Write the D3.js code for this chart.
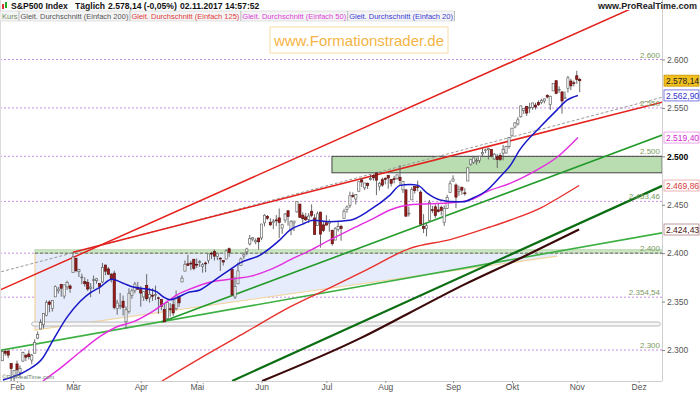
<!DOCTYPE html>
<html>
<head>
<meta charset="utf-8">
<script src="https://cdn.jsdelivr.net/npm/d3@7"></script>
<style>
  body { margin: 0; background: #fff; }
  svg { display: block; font-family: "Liberation Sans", Arial, sans-serif; }
</style>
</head>
<body>
<div id="container"></div>
<script>
'use strict';

// daily candles: [day, open, high, low, close]
const jan = [
  [23,2267.8,2271.8,2257.0,2265.2],[24,2267.9,2284.6,2266.7,2280.1],[25,2288.9,2299.6,2288.9,2298.4],
  [26,2298.6,2301.0,2294.1,2296.7],[27,2299.0,2299.0,2291.6,2294.7],[30,2286.0,2286.0,2268.0,2280.9],
  [31,2274.0,2279.1,2267.2,2278.9]
];
const feb = [
  [1,2285.6,2289.1,2272.4,2279.6],[2,2276.7,2284.0,2271.7,2280.9],[3,2288.5,2298.3,2287.9,2297.4],
  [6,2294.3,2296.2,2288.6,2292.6],[7,2295.9,2299.4,2290.2,2293.1],[8,2289.6,2295.9,2285.4,2294.7],
  [9,2296.7,2311.1,2296.6,2307.9],[10,2312.3,2319.2,2311.1,2316.1],[13,2321.7,2331.6,2321.4,2328.3],
  [14,2326.1,2337.6,2322.2,2337.6],[15,2335.6,2351.3,2334.8,2349.3],[16,2349.6,2351.3,2338.9,2347.2],
  [17,2343.0,2351.2,2339.6,2351.2],[21,2354.9,2366.7,2354.9,2365.4],[22,2361.1,2365.1,2358.3,2362.8],
  [23,2367.5,2368.3,2355.1,2363.8],[24,2355.7,2367.3,2352.9,2367.3],[27,2365.2,2371.5,2361.9,2369.8],
  [28,2366.1,2367.8,2359.0,2363.6]
];
const mar = [
  [1,2380.1,2401.0,2380.1,2396.0],[2,2394.8,2394.8,2380.2,2381.9],[3,2380.9,2383.9,2375.4,2383.1],
  [6,2375.2,2378.8,2368.0,2375.3],[7,2370.7,2375.1,2365.5,2368.4],[8,2369.8,2373.1,2361.0,2363.0],
  [9,2363.5,2369.1,2354.5,2364.9],[10,2372.5,2376.9,2363.0,2372.6],[13,2371.6,2374.4,2368.5,2373.5],
  [14,2368.6,2368.6,2358.2,2365.5],[15,2370.3,2390.0,2368.9,2385.3],[16,2387.7,2388.1,2377.2,2381.4],
  [17,2383.7,2385.7,2377.6,2378.3],[20,2378.2,2379.6,2369.7,2373.5],[21,2379.3,2381.9,2341.9,2344.0],
  [22,2343.0,2351.8,2336.5,2348.5],[23,2346.0,2358.9,2342.1,2346.0],[24,2350.4,2356.2,2335.7,2344.0],
  [27,2329.1,2344.9,2322.3,2341.6],[28,2339.8,2363.8,2337.6,2358.6],[29,2356.5,2363.4,2352.9,2361.1],
  [30,2361.3,2370.4,2358.6,2368.1],[31,2364.8,2370.4,2362.6,2362.7]
];
const apr = [
  [3,2362.3,2365.9,2344.7,2358.8],[4,2354.8,2360.5,2350.7,2360.2],[5,2366.6,2378.4,2350.5,2353.0],
  [6,2353.8,2364.2,2348.9,2357.5],[7,2356.6,2363.8,2350.7,2355.5],[10,2357.2,2366.4,2351.5,2357.2],
  [11,2353.9,2355.2,2337.3,2353.8],[12,2352.2,2352.7,2341.2,2344.9],[13,2342.0,2348.3,2329.0,2329.0],
  [17,2332.6,2349.1,2332.5,2349.0],[18,2342.5,2348.4,2334.5,2342.2],[19,2346.8,2352.6,2335.1,2338.2],
  [20,2342.7,2361.4,2340.9,2355.8],[21,2354.7,2356.2,2344.5,2348.7],[24,2370.3,2377.0,2370.3,2374.2],
  [25,2381.5,2392.5,2381.2,2388.6],[26,2389.0,2398.2,2386.8,2387.5],[27,2389.7,2392.1,2382.4,2388.8],
  [28,2393.7,2393.7,2382.4,2384.2]
];
const may = [
  [1,2388.5,2394.5,2384.8,2388.3],[2,2391.1,2392.9,2385.8,2391.2],[3,2386.5,2389.8,2379.8,2388.1],
  [4,2389.8,2391.4,2380.4,2389.5],[5,2392.4,2399.3,2389.4,2399.3],[8,2399.9,2401.4,2393.9,2399.4],
  [9,2401.6,2403.9,2392.4,2396.9],[10,2396.8,2399.7,2392.8,2399.6],[11,2394.8,2395.7,2381.7,2394.4],
  [12,2392.4,2392.4,2387.2,2390.9],[15,2394.0,2404.1,2393.9,2402.3],[16,2404.6,2405.8,2396.1,2400.7],
  [17,2383.0,2384.9,2356.2,2357.0],[18,2354.7,2375.7,2352.7,2365.7],[19,2368.3,2390.4,2368.3,2381.7],
  [22,2387.2,2395.5,2386.9,2394.0],[23,2397.0,2400.9,2393.9,2398.4],[24,2401.4,2405.6,2398.0,2404.4],
  [25,2409.5,2418.7,2408.0,2415.1],[26,2414.5,2416.7,2412.2,2415.8],[30,2411.7,2415.3,2409.4,2412.9],
  [31,2415.6,2416.0,2403.6,2411.8]
];
const jun = [
  [1,2415.7,2430.1,2413.5,2430.1],[2,2431.3,2440.2,2427.7,2439.1],[5,2437.8,2439.5,2434.3,2436.1],
  [6,2431.9,2436.2,2428.1,2429.3],[7,2432.0,2435.3,2424.8,2433.1],[8,2434.3,2439.3,2427.9,2433.8],
  [9,2436.4,2446.2,2415.7,2431.8],[12,2425.9,2430.4,2420.0,2429.4],[13,2434.2,2441.5,2431.3,2440.4],
  [14,2443.8,2443.8,2428.3,2437.9],[15,2424.1,2434.0,2418.5,2432.5],[16,2431.2,2433.2,2422.9,2433.2],
  [19,2442.6,2453.8,2441.8,2453.5],[20,2450.7,2450.7,2436.6,2437.0],[21,2439.3,2442.2,2430.7,2435.6],
  [22,2437.4,2441.6,2433.3,2434.5],[23,2434.7,2441.4,2431.1,2438.3],[26,2443.3,2450.4,2437.0,2439.1],
  [27,2436.3,2440.2,2419.4,2419.4],[28,2428.7,2443.0,2428.0,2440.7],[29,2442.4,2442.7,2405.7,2419.7],
  [30,2429.2,2432.7,2421.7,2423.4]
];
const jul = [
  [3,2431.4,2439.2,2428.7,2429.0],[5,2430.8,2434.9,2422.1,2432.5],[6,2423.4,2424.3,2407.7,2409.8],
  [7,2413.5,2426.9,2413.5,2425.2],[10,2424.5,2432.0,2422.3,2427.4],[11,2427.4,2429.3,2412.8,2425.5],
  [12,2435.8,2445.8,2435.8,2443.3],[13,2445.0,2449.3,2441.7,2447.8],[14,2449.2,2463.5,2446.7,2459.3],
  [17,2459.5,2462.8,2457.2,2459.1],[18,2455.9,2460.9,2450.3,2460.6],[19,2463.9,2473.8,2463.9,2473.8],
  [20,2475.6,2477.6,2468.4,2473.5],[21,2467.4,2472.5,2465.1,2472.5],[24,2472.0,2473.1,2466.3,2469.9],
  [25,2475.9,2481.2,2474.9,2477.1],[26,2480.0,2481.7,2474.9,2477.8],[27,2482.8,2484.0,2459.9,2475.4],
  [28,2469.1,2473.5,2464.7,2472.1],[31,2475.9,2478.0,2468.5,2470.3]
];
const aug = [
  [1,2477.1,2478.5,2471.1,2476.4],[2,2480.4,2480.4,2466.5,2477.6],[3,2476.0,2476.0,2468.9,2472.2],
  [4,2476.9,2480.0,2472.1,2476.8],[7,2477.1,2481.0,2475.9,2480.9],[8,2478.4,2490.9,2470.3,2474.9],
  [9,2465.4,2474.4,2462.1,2474.0],[10,2465.4,2465.4,2437.8,2438.2],[11,2441.0,2448.1,2437.9,2441.3],
  [14,2455.0,2468.2,2455.0,2465.8],[15,2468.7,2468.9,2461.6,2464.6],[16,2468.6,2474.9,2463.9,2468.1],
  [17,2463.0,2465.0,2430.0,2430.0],[18,2427.6,2440.3,2420.7,2425.6],[21,2425.5,2430.6,2417.4,2428.4],
  [22,2433.8,2454.8,2433.7,2452.5],[23,2444.9,2448.9,2441.4,2444.0],[24,2447.9,2450.4,2436.2,2439.0],
  [25,2444.7,2452.0,2442.0,2443.1],[28,2447.4,2449.1,2439.0,2444.2],[29,2431.9,2449.2,2428.2,2446.3],
  [30,2446.1,2460.3,2445.6,2457.6],[31,2462.7,2475.0,2462.7,2471.7]
];
const sep = [
  [1,2474.4,2480.4,2473.9,2476.6],[5,2470.4,2472.0,2446.6,2457.9],[6,2463.8,2469.6,2459.2,2465.5],
  [7,2468.1,2468.6,2460.3,2465.1],[8,2462.3,2467.1,2459.4,2461.4],[11,2474.5,2489.0,2474.5,2488.1],
  [12,2491.9,2496.8,2490.4,2496.5],[13,2493.9,2498.4,2492.1,2498.4],[14,2494.6,2498.4,2491.4,2495.6],
  [15,2495.7,2500.2,2493.2,2500.2],[18,2502.5,2508.3,2499.9,2503.9],[19,2506.3,2507.8,2503.2,2506.7],
  [20,2506.8,2508.9,2496.7,2508.2],[21,2507.2,2507.2,2499.0,2500.6],[22,2497.3,2503.5,2496.5,2502.2],
  [25,2499.4,2502.5,2488.0,2496.7],[26,2501.0,2503.5,2495.1,2496.8],[27,2503.3,2511.8,2495.9,2507.0],
  [28,2503.4,2510.8,2502.9,2510.1],[29,2510.0,2519.4,2508.0,2519.4]
];
const oct = [
  [2,2521.2,2529.2,2520.4,2529.1],[3,2530.3,2535.1,2528.9,2534.6],[4,2533.5,2540.5,2531.8,2537.7],
  [5,2540.9,2552.5,2540.0,2552.1],[6,2547.4,2549.4,2543.8,2549.3],[9,2551.4,2551.8,2541.6,2544.7],
  [10,2550.0,2555.2,2544.9,2550.6],[11,2550.6,2555.2,2548.0,2555.2],[12,2552.9,2555.3,2548.3,2550.9],
  [13,2555.7,2557.7,2552.1,2553.2],[16,2555.6,2559.5,2553.8,2557.6],[17,2557.2,2559.7,2554.7,2559.4],
  [18,2562.9,2564.1,2559.7,2561.3],[19,2553.4,2562.4,2547.9,2562.1],[20,2567.6,2575.4,2567.6,2575.2],
  [23,2578.1,2578.3,2564.3,2565.0],[24,2568.7,2572.2,2565.6,2569.1],[25,2566.5,2567.4,2544.0,2557.2],
  [26,2560.1,2567.1,2559.8,2560.4],[27,2570.3,2583.0,2565.9,2581.1],[30,2577.8,2580.0,2568.3,2572.8],
  [31,2576.0,2578.3,2572.2,2575.3]
];
const nov = [
  [1,2583.2,2588.4,2574.9,2579.4],[2,2579.5,2581.1,2566.2,2578.1]
];

// moving averages: [trading day index, value]
const ma20 = [[2.2,2269],[10.4,2279],[15.8,2292],[19.2,2310],[24,2334],[28.4,2350],[31.8,2359],[35.2,2365],
  [39.2,2373],[43,2369],[46.4,2365],[51.1,2363],[54.5,2360],[56.6,2355],[58.9,2352],[61.3,2354],[64.7,2359],
  [69.1,2362],[74,2372],[79.3,2383],[82.7,2390],[89.5,2398],[96.3,2414],[99.7,2424],[104,2430],[107.5,2434],
  [113.2,2432.5],[120,2434],[126.8,2444.6],[133.6,2460],[137,2470],[140.4,2471],[143.1,2470],[146.2,2462],
  [150.6,2455],[156.4,2453],[158.4,2453],[161.8,2457],[166.5,2465],[171,2479],[174.3,2490],[177.7,2507],
  [184.5,2530],[190.3,2548],[193.7,2558],[197.4,2562.9]];
const ma50 = [[15.8,2268],[21.6,2281],[28.4,2298],[35.2,2314],[40.9,2324],[46.4,2329],[52.1,2338],[57.9,2350],
  [61.3,2357],[65,2362],[72.5,2370],[81.7,2374],[86.1,2376],[92.9,2383],[99.7,2393],[106.5,2403],[113.2,2413.6],
  [120,2424],[126.8,2434],[133.6,2444.6],[140.4,2450],[147.2,2451],[154,2452],[160.8,2455],[167.6,2465],
  [174.3,2472],[183.5,2486],[190.3,2499],[197.4,2519.4]];
const ma125 = [[56.2,2268],[70,2293],[84.4,2318],[100,2345],[113,2364],[125.8,2383],[140.4,2405],[154,2414],
  [167.6,2427],[174.3,2434],[185,2447],[191.3,2458],[197.8,2469.86]];
const ma200 = [[90.2,2268],[123.4,2312],[140,2338],[158.4,2367],[178,2395],[197.8,2424.43]];

// drawn trend lines and zones: [index, value] pairs
const redUpper = [[0,2360.3],[230,2672.2]];
const redLower = [[26,2401],[226,2556]];
const grayTrend = [[0,2379.5],[226,2561]];
const greenLong = [[0,2299],[226,2421]];
const greenMid = [[56,2329],[226,2522]];
const greenDark = [[80,2268],[226,2469.5]];
const triangle = [[13.1,2400],[190.3,2400],[190.3,2397],[13.1,2320.6]];
const zone2500 = [113.9, 226, 2483, 2500];
const zone2400 = [13.1, 226, 2400, 2403.5];
const bar2325 = [12, 225.3, 2324.8, 2328.9];

const levels = [2600, 2550, 2500, 2453.46, 2400, 2354.54, 2300];
const yTicks = [2300, 2350, 2400, 2450, 2500, 2550, 2600];
const monthTicks = [7, 26, 49, 68, 90, 112, 132, 155, 175, 197, 218];
const monthNames = ['Feb', 'Mär', 'Apr', 'Mai', 'Jun', 'Jul', 'Aug', 'Sep', 'Okt', 'Nov', 'Dez'];
const tagValues = [2578.14, 2562.90, 2519.40, 2469.86, 2424.43];
const legendItems = ['Kurs', 'Gleit. Durchschnitt (Einfach 200)', 'Gleit. Durchschnitt (Einfach 125)',
  'Gleit. Durchschnitt (Einfach 50)', 'Gleit. Durchschnitt (Einfach 20)'];

const w = 700;
const h = 394;
const plotRight = 662;
const plotBottom = 381;

const de = d3.formatLocale({ decimal: ',', thousands: '.', grouping: [3], currency: ['', '€'] });
const fmt0 = de.format(',.0f');
const fmt2 = de.format(',.2f');
const fmtLevel = (v) => Number.isInteger(v) ? fmt0(v) : fmt2(v);

const candles = [jan, feb, mar, apr, may, jun, jul, aug, sep, oct, nov]
  .flat()
  .map((r, i) => ({ i: i, o: r[1], h: r[2], l: r[3], c: r[4] }));

const x = d3.scaleLinear().domain([0, 226]).range([-3.6, 662.2]);
const y = d3.scaleLinear().domain([2300, 2600]).range([350, 59.5]);
const line = d3.line().x((d) => x(d[0])).y((d) => y(d[1]));
const smooth = d3.line().x((d) => x(d[0])).y((d) => y(d[1])).curve(d3.curveMonotoneX);

const svg = d3.select('#container')
  .append('svg')
  .attr('width', w)
  .attr('height', h);

svg.append('defs').append('clipPath').attr('id', 'plot')
  .append('rect').attr('x', 0).attr('y', 10).attr('width', plotRight).attr('height', plotBottom - 10);

const plot = svg.append('g').attr('clip-path', 'url(#plot)');

// horizontal levels
plot.selectAll('.level')
  .data(levels)
  .enter()
  .append('line')
  .attr('x1', 0).attr('x2', plotRight)
  .attr('y1', (d) => y(d)).attr('y2', (d) => y(d))
  .attr('stroke', '#c58ee6')
  .attr('stroke-dasharray', '2,2');

// triangle
plot.append('path')
  .attr('d', line(triangle) + 'Z')
  .attr('fill', '#e6ecfb');
plot.append('path')
  .attr('d', line([triangle[0], triangle[3], triangle[2]]))
  .attr('fill', 'none')
  .attr('stroke', '#f3d39b')
  .attr('stroke-width', 1.2);

// zones
plot.append('rect')
  .attr('x', x(bar2325[0])).attr('width', x(bar2325[1]) - x(bar2325[0]))
  .attr('y', y(bar2325[3])).attr('height', y(bar2325[2]) - y(bar2325[3]))
  .attr('rx', 1.5)
  .attr('fill', '#f7f7f7').attr('stroke', '#b8b8b8');
plot.append('rect')
  .attr('x', x(zone2400[0])).attr('width', x(zone2400[1]) - x(zone2400[0]))
  .attr('y', y(zone2400[3])).attr('height', y(zone2400[2]) - y(zone2400[3]))
  .attr('fill', '#cfe6c6').attr('stroke', '#b5d6aa');
plot.append('line')
  .attr('x1', x(zone2400[0])).attr('x2', plotRight)
  .attr('y1', y(2400)).attr('y2', y(2400))
  .attr('stroke', '#666').attr('stroke-dasharray', '3,2');
plot.append('rect')
  .attr('x', x(zone2500[0])).attr('width', x(zone2500[1]) - x(zone2500[0]))
  .attr('y', y(zone2500[3])).attr('height', y(zone2500[2]) - y(zone2500[3]))
  .attr('fill', '#b9dcb1').attr('stroke', '#444');

// trend lines
const trends = [
  [grayTrend, '#999', 1, '3,2'],
  [redUpper, '#e3201c', 1.5, null],
  [redLower, '#e3201c', 1.5, null],
  [greenLong, '#3cb043', 1.6, null],
  [greenMid, '#239b2a', 1.6, null],
  [greenDark, '#0b6e12', 2.2, null]
];
trends.forEach((t) => {
  plot.append('path')
    .attr('d', line(t[0]))
    .attr('fill', 'none')
    .attr('stroke', t[1])
    .attr('stroke-width', t[2])
    .attr('stroke-dasharray', t[3]);
});

// candles
const cg = plot.append('g');
cg.selectAll('.wick')
  .data(candles)
  .enter()
  .append('line')
  .attr('x1', (d) => x(d.i)).attr('x2', (d) => x(d.i))
  .attr('y1', (d) => y(d.h)).attr('y2', (d) => y(d.l))
  .attr('stroke', '#5a5a5a')
  .attr('stroke-width', 0.9);
cg.selectAll('.body')
  .data(candles)
  .enter()
  .append('rect')
  .attr('x', (d) => x(d.i) - 1.1)
  .attr('width', 2.2)
  .attr('y', (d) => y(Math.max(d.o, d.c)))
  .attr('height', (d) => Math.max(0.8, Math.abs(y(d.o) - y(d.c))))
  .attr('fill', (d) => d.c >= d.o ? '#ffffff' : '#9b1b1b')
  .attr('stroke', (d) => d.c >= d.o ? '#666' : '#5a1010')
  .attr('stroke-width', 0.7);

// moving averages
const mas = [
  [ma200, '#3b0909', 2.2],
  [ma125, '#e8302d', 1.4],
  [ma50, '#e42ee0', 1.4],
  [ma20, '#1818c8', 1.5]
];
mas.forEach((m) => {
  plot.append('path')
    .attr('d', smooth(m[0]))
    .attr('fill', 'none')
    .attr('stroke', m[1])
    .attr('stroke-width', m[2]);
});

// level labels
svg.selectAll('.levelText')
  .data(levels)
  .enter()
  .append('text')
  .attr('x', plotRight - 2)
  .attr('y', (d) => y(d) - 2)
  .attr('text-anchor', 'end')
  .attr('font-size', 8)
  .attr('fill', '#7b9a63')
  .text((d) => fmtLevel(d));

// frame
svg.append('line').attr('x1', plotRight + 0.5).attr('x2', plotRight + 0.5).attr('y1', 0).attr('y2', plotBottom)
  .attr('stroke', '#cfcfcf');
svg.append('line').attr('x1', 0).attr('x2', plotRight).attr('y1', plotBottom + 0.5).attr('y2', plotBottom + 0.5)
  .attr('stroke', '#cfcfcf');
svg.append('line').attr('x1', 0.5).attr('x2', 0.5).attr('y1', 0).attr('y2', plotBottom)
  .attr('stroke', '#dcdcdc');

// axes
const yAxis = svg.append('g')
  .attr('transform', 'translate(' + plotRight + ',0)')
  .call(d3.axisRight(y).tickValues(yTicks).tickFormat(fmt0).tickSize(3).tickPadding(2));
yAxis.select('.domain').remove();
yAxis.selectAll('line').attr('stroke', '#888');
yAxis.selectAll('text')
  .attr('font-size', 8.5)
  .attr('font-family', '"Liberation Sans", Arial, sans-serif')
  .attr('fill', (d) => d === 2500 ? '#000' : '#555')
  .attr('font-weight', (d) => d === 2500 ? 'bold' : 'normal');

const xAxis = svg.append('g')
  .attr('transform', 'translate(0,' + plotBottom + ')')
  .call(d3.axisBottom(x).tickValues(monthTicks).tickFormat((d, i) => monthNames[i]).tickSize(2).tickPadding(1));
xAxis.select('.domain').remove();
xAxis.selectAll('line').attr('stroke', '#999');
xAxis.selectAll('text')
  .attr('font-size', 8.5)
  .attr('font-family', '"Liberation Sans", Arial, sans-serif')
  .attr('fill', '#555');

// value tags
const tagStyle = [
  ['#f2c01e', '#c89400', '#222'],
  ['#fff', '#5a5ae0', '#3030d0'],
  ['#fff', '#e98fe6', '#d42ad0'],
  ['#fff', '#eba0a0', '#d43a3a'],
  ['#fff', '#b08080', '#4a1010']
];
const tags = svg.selectAll('.tag')
  .data(tagValues)
  .enter()
  .append('g')
  .attr('transform', (d) => 'translate(664,' + y(d) + ')');
tags.append('rect')
  .attr('x', 0).attr('y', -5.5).attr('width', 35).attr('height', 11)
  .attr('fill', (d, i) => tagStyle[i][0])
  .attr('stroke', (d, i) => tagStyle[i][1])
  .attr('stroke-width', 0.8);
tags.append('text')
  .attr('x', 2).attr('y', 3.2)
  .attr('font-size', 8.5)
  .attr('fill', (d, i) => tagStyle[i][2])
  .text((d) => fmt2(d));

// header
svg.append('rect').attr('x', 2).attr('y', 4).attr('width', 2).attr('height', 5).attr('fill', '#d33');
svg.append('rect').attr('x', 5).attr('y', 2).attr('width', 2).attr('height', 6).attr('fill', '#2a2');
const head = svg.append('text')
  .attr('y', 9)
  .attr('font-size', 8.6)
  .attr('font-weight', 'bold')
  .attr('fill', '#111');
head.append('tspan').attr('x', 11).text('S&P500 Index');
head.append('tspan').attr('x', 75).text('Täglich');
head.append('tspan').attr('x', 108).text('2.578,14 (-0,05%)');
head.append('tspan').attr('x', 180).text('02.11.2017 14:57:52');

svg.append('text')
  .attr('x', 697).attr('y', 9)
  .attr('text-anchor', 'end')
  .attr('font-size', 9)
  .attr('font-weight', 'bold')
  .attr('fill', '#222')
  .text('www.ProRealTime.com');

// legend row
const legendColors = ['#6f8f63', '#555', '#e23b3b', '#dc3ed8', '#3b3bd8'];
const legend = svg.append('g');
const legendBg = legend.append('rect')
  .attr('x', 0).attr('y', 11).attr('height', 10)
  .attr('fill', '#f4f4f4').attr('stroke', '#d0d0d0').attr('stroke-width', 0.6);
let lx = 2;
legendItems.forEach((t, i) => {
  const txt = legend.append('text')
    .attr('x', lx).attr('y', 19)
    .attr('font-size', 7.5)
    .attr('fill', legendColors[i])
    .text(t);
  lx += txt.node().getComputedTextLength() + 1.5;
  legend.append('line')
    .attr('x1', lx).attr('x2', lx).attr('y1', 11).attr('y2', 21)
    .attr('stroke', '#bbb');
  lx += 1.5;
});
legendBg.attr('width', lx - 1.5);

// watermark
svg.append('rect')
  .attr('x', 270).attr('y', 27).attr('width', 178).attr('height', 26)
  .attr('fill', '#fff').attr('stroke', '#f7dba6');
svg.append('text')
  .attr('x', 359).attr('y', 45.5)
  .attr('text-anchor', 'middle')
  .attr('font-size', 15)
  .attr('fill', '#f4b544')
  .text('www.Formationstrader.de');

svg.append('text')
  .attr('x', 2).attr('y', 379)
  .attr('font-size', 6)
  .attr('fill', '#6b7f6b')
  .text('©ProRealTime.com');
</script>
</body>
</html>
